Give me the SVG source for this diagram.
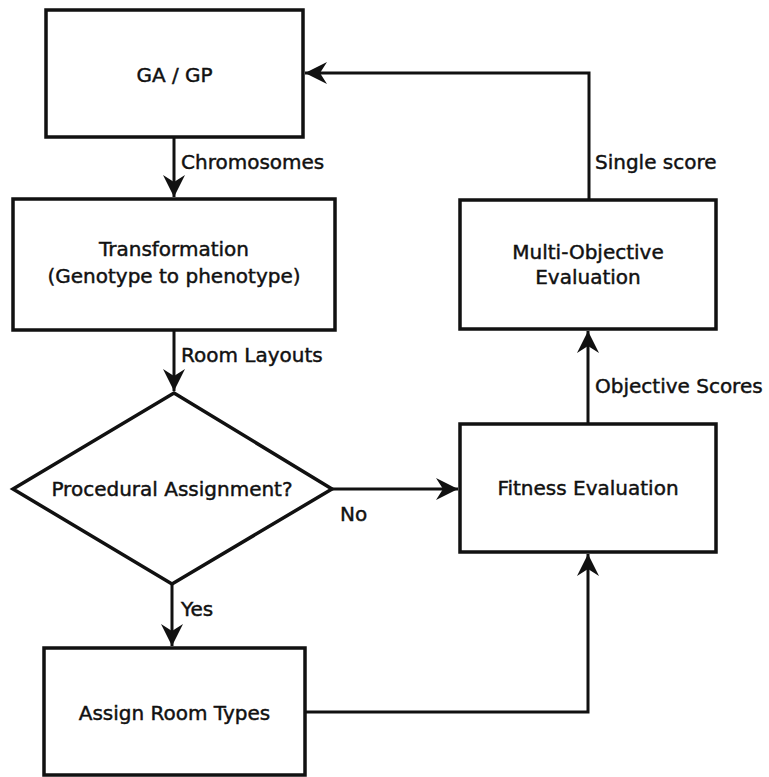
<svg xmlns="http://www.w3.org/2000/svg" width="769" height="777" viewBox="0 0 769 777">
  <style>
    .box { fill: #fff; stroke: #111; stroke-width: 3.5; }
    .wire { fill: none; stroke: #111; stroke-width: 3; }
    text { font-family: "DejaVu Sans", "Liberation Sans", sans-serif; font-size: 20px; fill: #111; stroke: #111; stroke-width: 0.45; }
    .mid { text-anchor: middle; }
  </style>
  <defs>
    <marker id="arrow" viewBox="-24 -12 26 24" refX="0" refY="0" markerWidth="26" markerHeight="24" markerUnits="userSpaceOnUse" orient="auto">
      <path d="M0,0 L-22,-11 L-15,0 L-22,11 Z" fill="#111"/>
    </marker>
  </defs>

  <!-- connectors -->
  <g id="connectors">
    <path class="wire" d="M174,137 V197" marker-end="url(#arrow)"/>
    <path class="wire" d="M174,330 V391" marker-end="url(#arrow)"/>
    <path class="wire" d="M332,489 H458" marker-end="url(#arrow)"/>
    <path class="wire" d="M172,584 V646" marker-end="url(#arrow)"/>
    <path class="wire" d="M305,712 H588 V554" marker-end="url(#arrow)"/>
    <path class="wire" d="M588,424 V331" marker-end="url(#arrow)"/>
    <path class="wire" d="M589,200 V73 H305" marker-end="url(#arrow)"/>
    <text x="181" y="169">Chromosomes</text>
    <text x="181" y="362">Room Layouts</text>
    <text x="340" y="521">No</text>
    <text x="181" y="616">Yes</text>
    <text x="595" y="393">Objective Scores</text>
    <text x="595" y="169">Single score</text>
  </g>

  <g id="ga-gp">
    <rect class="box" x="46" y="10" width="257" height="127"/>
    <text class="mid" x="174.5" y="82">GA / GP</text>
  </g>

  <g id="transformation">
    <rect class="box" x="13" y="199" width="322" height="131"/>
    <text class="mid" x="174" y="256">Transformation</text>
    <text class="mid" x="174" y="283">(Genotype to phenotype)</text>
  </g>

  <g id="procedural-assignment">
    <path class="box" d="M174,393 L332,489 L172,584 L13,489 Z"/>
    <text class="mid" x="172" y="496">Procedural Assignment?</text>
  </g>

  <g id="assign-room-types">
    <rect class="box" x="44" y="648" width="261" height="127"/>
    <text class="mid" x="174.5" y="720">Assign Room Types</text>
  </g>

  <g id="fitness-evaluation">
    <rect class="box" x="460" y="424" width="256" height="128"/>
    <text class="mid" x="588" y="495">Fitness Evaluation</text>
  </g>

  <g id="multi-objective-evaluation">
    <rect class="box" x="460" y="200" width="256" height="129"/>
    <text class="mid" x="588" y="259">Multi-Objective</text>
    <text class="mid" x="588" y="284">Evaluation</text>
  </g>
</svg>
